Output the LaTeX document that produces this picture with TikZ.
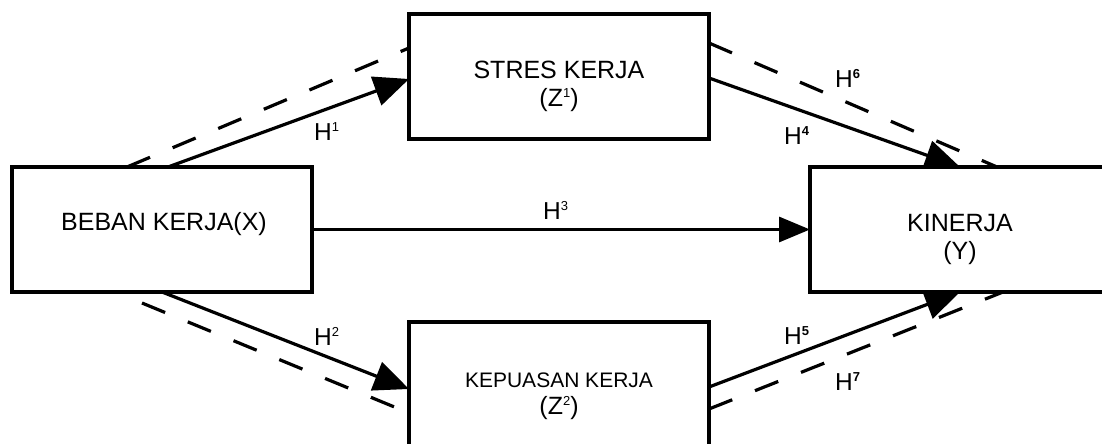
\documentclass[tikz,border=0pt]{standalone}
\usepackage{fontspec}
\setmainfont{Liberation Sans}
\usetikzlibrary{arrows.meta,calc,backgrounds}

% small raised index, as in H^1 or Z^1
\newcommand\upidx[1]{\raisebox{8.5pt}{\fontsize{13}{13}\selectfont #1}}

\begin{document}
\begin{tikzpicture}[x=1pt,y=-1pt,
  varbox/.style={draw, line width=3.3pt, fill=white, inner sep=0pt, outer sep=0pt,
    minimum width=300pt, minimum height=125pt, anchor=north west},
  boxtext/.style={font=\fontsize{25}{28}\selectfont, inner sep=0pt, anchor=base},
  smalltext/.style={font=\fontsize{21}{24}\selectfont, inner sep=0pt, anchor=base},
  hlabel/.style={font=\fontsize{24.5}{25}\selectfont, inner sep=0pt, anchor=base west},
  link/.style={line width=3.2pt},
  bigtip/.style={-{Triangle[length=35pt,width=30pt]}},
  midtip/.style={-{Triangle[length=31pt,width=25pt]}},
  dashlink/.style={line width=3.2pt, dash pattern=on 25pt off 24.5pt}
]
\useasboundingbox (0,0) rectangle (1102,444);
\clip (0,0) rectangle (1102,444);

% variable boxes
\node[varbox] (x)  at (12,167)  {};
\node[varbox] (z1) at (409,14)  {};
\node[varbox] (z2) at (409,322) {};
\node[varbox] (y)  at (810,167) {};

% box captions
\node[boxtext] (xa)  at ($(x.north)+(2,63)$)  {BEBAN KERJA(X)};
\node[boxtext] (z1a) at ($(z1.north)+(0,64)$) {STRES KERJA};
\node[boxtext] (z1b) at ($(z1.north)+(0,92)$) {(Z\upidx{1})};
\node[smalltext] (z2a) at ($(z2.north)+(0,65)$) {KEPUASAN KERJA};
\node[boxtext] (z2b) at ($(z2.north)+(0,92)$) {(Z\upidx{2})};
\node[boxtext] (ya)  at ($(y.north)+(0,64)$)  {KINERJA};
\node[boxtext] (yb)  at ($(y.north)+(0,92)$)  {(Y)};

% paths between the variables, kept behind the boxes
\begin{scope}[on background layer]
  % direct effects
  \draw[link,bigtip] ($(x.north)+(6,0)$) -- ($(z1.north west)+(0,65)$);
  \draw[link,bigtip] (x.south) -- ($(z2.north west)+(0,67)$);
  \draw[link,midtip] (x.east) -- (y.west);
  \draw[link,bigtip] ($(z1.north east)+(0,64)$) -- (y.north);
  \draw[link,bigtip] ($(z2.north east)+(0,65)$) -- (y.south);
  % mediated effects
  \draw[dashlink] ($(x.north)+(-35,0)$) -- ($(z1.north west)+(0,34)$);
  \draw[dashlink] ($(x.south)+(-20,11)$) -- ($(z2.north west)+(0,91)$);
  \draw[dashlink] ($(z1.north east)+(0,29)$) -- ($(y.north)+(37,0)$);
  \draw[dashlink] ($(z2.north east)+(0,87)$) -- ($(y.south)+(43,0)$);
\end{scope}

% hypothesis labels
\node[hlabel] (h1) at (314,140) {H\upidx{1}};
\node[hlabel] (h2) at (314,345) {H\upidx{2}};
\node[hlabel] (h3) at (543,219) {H\upidx{3}};
\node[hlabel] (h4) at (784,144) {H\upidx{\bfseries 4}};
\node[hlabel] (h5) at (784,344) {H\upidx{\bfseries 5}};
\node[hlabel] (h6) at (835,87)  {H\upidx{\bfseries 6}};
\node[hlabel] (h7) at (835,390) {H\upidx{\bfseries 7}};
\end{tikzpicture}
\end{document}
